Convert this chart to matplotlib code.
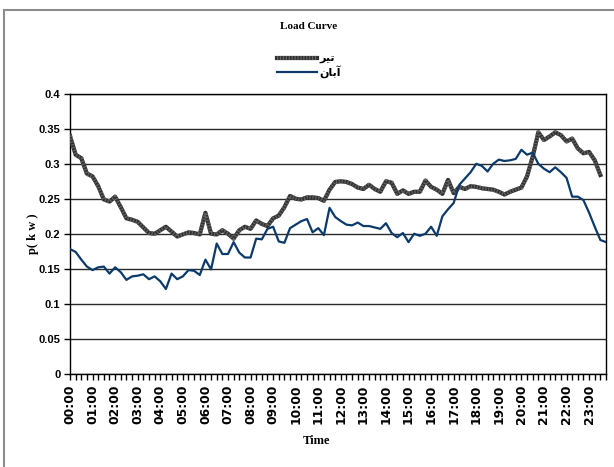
import matplotlib.pyplot as plt
from matplotlib.patches import Rectangle

# 15-minute readings (kW), starting at 00:00
tir = [0.340, 0.313, 0.308, 0.286, 0.282, 0.268, 0.249, 0.246, 0.253, 0.238,
       0.222, 0.220, 0.217, 0.209, 0.201, 0.200, 0.205, 0.210, 0.203, 0.196,
       0.199, 0.202, 0.201, 0.199, 0.230, 0.200, 0.199, 0.205, 0.200, 0.193,
       0.205, 0.210, 0.207, 0.219, 0.214, 0.211, 0.222, 0.226, 0.238, 0.254,
       0.250, 0.249, 0.252, 0.252, 0.251, 0.247, 0.263, 0.274, 0.275, 0.274,
       0.271, 0.266, 0.264, 0.270, 0.264, 0.260, 0.275, 0.273, 0.257, 0.262,
       0.257, 0.260, 0.260, 0.276, 0.267, 0.263, 0.257, 0.277, 0.258, 0.267,
       0.264, 0.268, 0.267, 0.265, 0.264, 0.263, 0.260, 0.256, 0.260, 0.263,
       0.266, 0.282, 0.310, 0.345, 0.334, 0.339, 0.345, 0.341, 0.332, 0.336,
       0.322, 0.315, 0.317, 0.305, 0.284]

aban = [0.178, 0.174, 0.163, 0.153, 0.148, 0.152, 0.153, 0.143, 0.152, 0.145,
        0.134, 0.139, 0.140, 0.142, 0.135, 0.139, 0.132, 0.121, 0.143, 0.135,
        0.139, 0.148, 0.147, 0.141, 0.163, 0.149, 0.186, 0.171, 0.171, 0.188,
        0.173, 0.166, 0.166, 0.193, 0.192, 0.207, 0.210, 0.189, 0.187, 0.208,
        0.213, 0.218, 0.221, 0.202, 0.208, 0.198, 0.237, 0.224, 0.218, 0.213,
        0.212, 0.216, 0.211, 0.211, 0.209, 0.207, 0.215, 0.201, 0.195, 0.201,
        0.188, 0.200, 0.197, 0.200, 0.210, 0.197, 0.225, 0.235, 0.244, 0.270,
        0.279, 0.288, 0.300, 0.297, 0.289, 0.300, 0.306, 0.304, 0.305, 0.307,
        0.320, 0.313, 0.316, 0.300, 0.293, 0.288, 0.295, 0.288, 0.280, 0.253,
        0.253, 0.248, 0.230, 0.210, 0.191, 0.188]

hour_labels = ['00:00', '01:00', '02:00', '03:00', '04:00', '05:00',
               '06:00', '07:00', '08:00', '09:00', '10:00', '11:00',
               '12:00', '13:00', '14:00', '15:00', '16:00', '17:00',
               '18:00', '19:00', '20:00', '21:00', '22:00', '23:00']
y_ticks = [0, 0.05, 0.1, 0.15, 0.2, 0.25, 0.3, 0.35, 0.4]
y_labels = ['0', '0.05', '0.1', '0.15', '0.2', '0.25', '0.3', '0.35', '0.4']

# month names, already shaped for display (matplotlib does no arabic joining)
name_tir = '\uFEAE\uFBFF\uFE97'
name_aban = '\uFEE5\uFE8E\uFE91\uFE81'

fig = plt.figure(figsize=(6.14, 4.67), dpi=100)
ax = fig.add_axes([0.114, 0.2, 0.873, 0.599])

# thick striped grey line: dark base + slightly lighter dashes on top
g1, = ax.plot(range(len(tir)), tir, color='#303030', lw=3.0, zorder=3)
g2, = ax.plot(range(len(tir)), tir, color='#626262', lw=3.0,
              dashes=(0.3, 0.4), zorder=3)
b1, = ax.plot(range(len(aban)), aban, color='#0b3a6b', lw=1.6, zorder=4)

ax.set_xlim(0, len(aban) - 1)
ax.set_ylim(0, 0.4)
ax.set_yticks(y_ticks)
ax.set_yticklabels(y_labels, fontfamily='Liberation Sans', fontweight='bold', fontsize=8)
ax.yaxis.grid(True, color='#2a2a2a', lw=1)
ax.set_axisbelow(True)

ax.set_xticks(range(0, len(aban), 4))
ax.set_xticks(range(len(aban)), minor=True)
ax.set_xticklabels(hour_labels, rotation=90, fontfamily='DejaVu Sans',
                   fontweight='bold', fontsize=8.8)
ax.tick_params(axis='x', which='both', length=4, width=1, direction='out', pad=4)
ax.tick_params(axis='y', length=4, width=1, direction='out', pad=3)
for s in ax.spines.values():
    s.set_color('black')
    s.set_linewidth(1)

fig.text(0.503, 0.944, 'Load Curve', ha='center', va='center',
         fontfamily='Liberation Serif', fontweight='bold', fontsize=8)
fig.text(0.516, 0.056, 'Time', ha='center', va='center',
         fontfamily='Liberation Serif', fontweight='bold', fontsize=9)
fig.text(0.054, 0.499, 'p( k w )', ha='center', va='center', rotation=90,
         fontfamily='Liberation Serif', fontweight='bold', fontsize=9)

fig.legend([(g1, g2), b1], [name_tir, name_aban], loc='center',
           bbox_to_anchor=(0.503, 0.859), frameon=False, handlelength=3.6,
           handletextpad=0.2, labelspacing=0.05, borderpad=0,
           prop={'family': 'DejaVu Sans', 'weight': 'bold', 'size': 8})

# grey chart border
fig.add_artist(Rectangle((3.5 / 614, -0.05), 1.2, 457 / 467 + 0.05,
                         transform=fig.transFigure, fill=False,
                         edgecolor='#8c8c8c', lw=1.5))

fig.savefig('out.png', dpi=100)
